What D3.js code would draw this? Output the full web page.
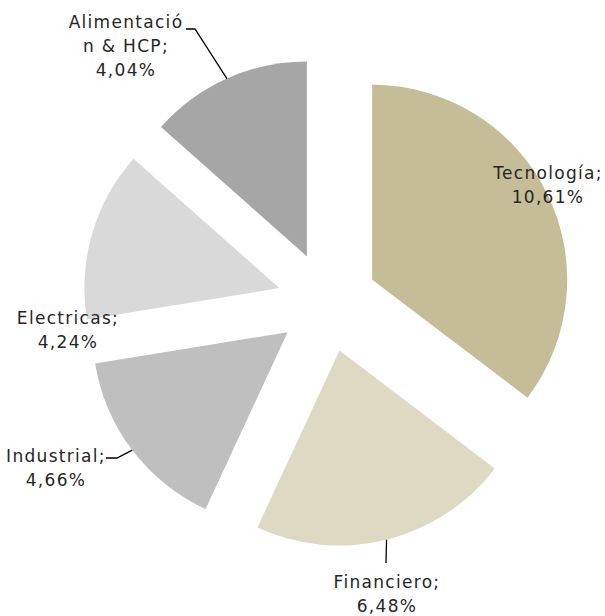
<!DOCTYPE html>
<html>
<head>
<meta charset="utf-8">
<script src="https://cdn.jsdelivr.net/npm/d3@7/dist/d3.min.js"></script>
<style>
  body { margin: 0; background: #fff; }
  text { font-family: "DejaVu Sans", sans-serif; font-size: 17px; letter-spacing: 1.3px; fill: #262626; }
</style>
</head>
<body>
<svg id="chart" width="605" height="616"></svg>
<script>
const categories = ["Tecnología", "Financiero", "Industrial", "Electricas", "Alimentación & HCP"];
const values = [10.61, 6.48, 4.66, 4.24, 4.04];
const labelText = ["10,61%", "6,48%", "4,66%", "4,24%", "4,04%"];
const colors = ["#C4BD97", "#DDD9C3", "#BFBFBF", "#D9D9D9", "#A6A6A6"];

// label layout: lines of text, centre x, first baseline y, leader elbow
const labels = [
    { lines: ["Tecnología;", "10,61%"], x: 548, y: 179 },
    { lines: ["Financiero;", "6,48%"], x: 387, y: 588, leader: [[386, 563]] },
    { lines: ["Industrial;", "4,66%"], x: 56, y: 462, leader: [[117, 458], [106, 458]] },
    { lines: ["Electricas;", "4,24%"], x: 68, y: 324 },
    { lines: ["Alimentació", "n & HCP;", "4,04%"], x: 126, y: 28, leader: [[195, 29], [186, 29]] }
];

const cx = 327.4, cy = 302, radius = 195, explode = 50;

const svg = d3.select("#chart");
const g = svg.append("g").attr("transform", `translate(${cx},${cy})`);

const pie = d3.pie().sort(null).value(d => d);
const arcs = pie(values);
const arc = d3.arc().innerRadius(0).outerRadius(radius);

function offset(d, r) {
    const a = (d.startAngle + d.endAngle) / 2;
    return [Math.sin(a) * r, -Math.cos(a) * r];
}

g.selectAll("path.slice")
    .data(arcs)
    .join("path")
    .attr("class", "slice")
    .attr("fill", (d, i) => colors[i])
    .attr("transform", d => {
        const [x, y] = offset(d, explode);
        return `translate(${x},${y})`;
    })
    .attr("d", arc);

// leader lines from the middle of each slice's outer edge
arcs.forEach((d, i) => {
    const lab = labels[i];
    if (!lab.leader) return;
    const [x, y] = offset(d, explode + radius);
    const pts = [[cx + x, cy + y]].concat(lab.leader);
    svg.append("path")
        .attr("d", d3.line()(pts))
        .attr("fill", "none")
        .attr("stroke", "#000")
        .attr("stroke-width", 1.3);
});

labels.forEach(lab => {
    const t = svg.append("text")
        .attr("text-anchor", "middle")
        .attr("x", lab.x)
        .attr("y", lab.y);
    lab.lines.forEach((line, j) => {
        t.append("tspan")
            .attr("x", lab.x)
            .attr("dy", j === 0 ? 0 : 24)
            .text(line);
    });
});
</script>
</body>
</html>
